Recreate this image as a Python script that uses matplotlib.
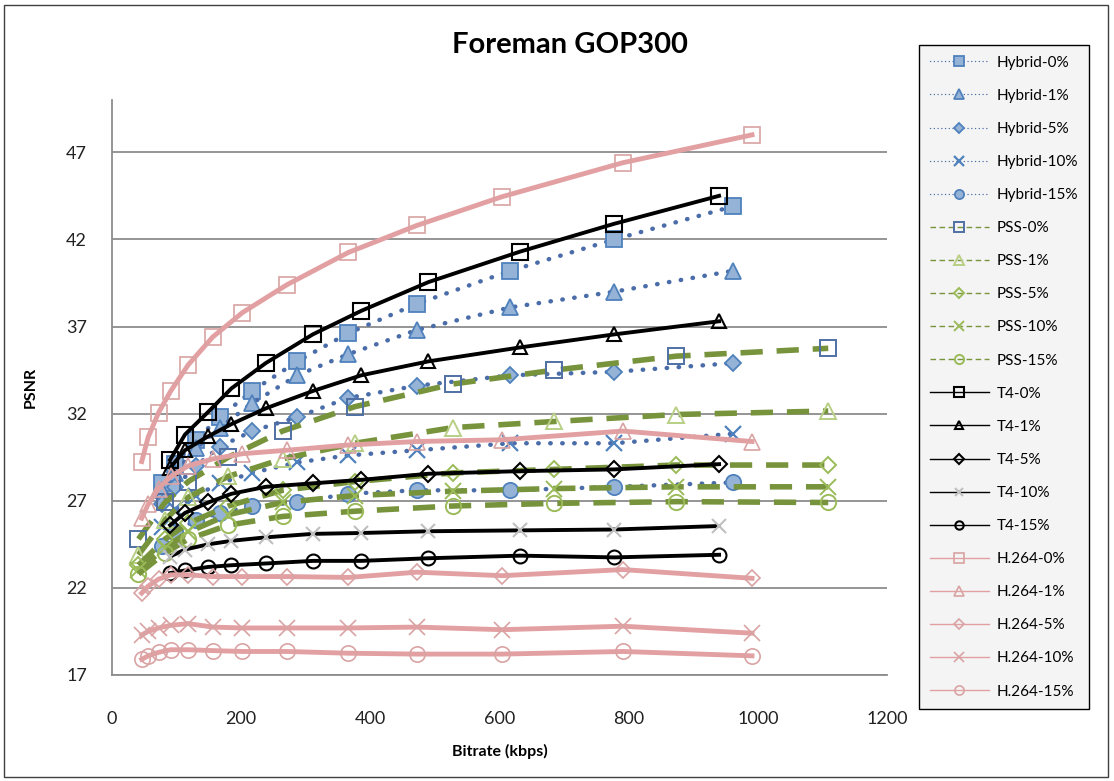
import matplotlib
matplotlib.use("Agg")
import matplotlib.pyplot as plt
from matplotlib.patches import Rectangle

plt.rcParams["font.family"] = ["Lato", "DejaVu Sans"]

# bitrates (kbps) per scheme
x_hybrid = [77, 98, 130, 167, 217, 287, 365, 472, 617, 778, 962]
x_pss = [41, 82, 118, 180, 264, 376, 528, 685, 874, 1109]
x_t4 = [90, 113, 149, 185, 238, 311, 386, 490, 632, 778, 940]
x_h264 = [46, 56, 72, 91, 118, 156, 202, 271, 366, 472, 604, 791, 991]

# PSNR (dB)
hybrid_0 = [28.0, 29.1, 30.5, 31.8, 33.3, 35.0, 36.6, 38.3, 40.2, 42.0, 43.9]
hybrid_1 = [27.6, 28.6, 30.0, 31.2, 32.6, 34.2, 35.4, 36.8, 38.1, 39.0, 40.2]
hybrid_5 = [26.8, 27.8, 29.0, 30.1, 31.0, 31.8, 32.9, 33.6, 34.2, 34.4, 34.9]
hybrid_10 = [25.5, 26.5, 27.3, 28.0, 28.6, 29.2, 29.6, 29.9, 30.3, 30.3, 30.85]
hybrid_15 = [24.4, 25.2, 25.9, 26.3, 26.7, 26.9, 27.4, 27.6, 27.6, 27.8, 28.05]

pss_0 = [24.8, 26.9, 28.1, 29.5, 31.0, 32.4, 33.7, 34.5, 35.3, 35.75]
pss_1 = [23.9, 25.9, 27.2, 28.4, 29.4, 30.3, 31.2, 31.55, 31.95, 32.15]
pss_5 = [23.3, 24.8, 25.7, 26.7, 27.6, 28.1, 28.6, 28.8, 29.05, 29.05]
pss_10 = [23.0, 24.3, 25.2, 26.2, 26.9, 27.3, 27.55, 27.7, 27.8, 27.8]
pss_15 = [22.8, 24.0, 24.8, 25.6, 26.1, 26.4, 26.7, 26.85, 26.95, 26.9]

t4_0 = [29.35, 30.8, 32.1, 33.45, 34.9, 36.55, 37.9, 39.55, 41.3, 42.9, 44.5]
t4_1 = [28.9, 29.9, 30.7, 31.4, 32.3, 33.3, 34.2, 35.0, 35.8, 36.55, 37.3]
t4_5 = [25.6, 26.3, 26.9, 27.4, 27.8, 28.0, 28.2, 28.55, 28.7, 28.8, 29.1]
t4_10 = [23.8, 24.2, 24.5, 24.7, 24.9, 25.1, 25.15, 25.25, 25.3, 25.35, 25.55]
t4_15 = [22.85, 23.0, 23.2, 23.3, 23.4, 23.55, 23.55, 23.7, 23.85, 23.75, 23.9]

h264_0 = [29.25, 30.65, 32.05, 33.3, 34.8, 36.4, 37.8, 39.4, 41.25, 42.8, 44.45, 46.4, 48.0]
h264_1 = [26.0, 26.8, 27.7, 28.4, 29.0, 29.4, 29.7, 29.9, 30.2, 30.4, 30.5, 31.0, 30.4]
h264_5 = [21.7, 22.1, 22.5, 22.75, 22.75, 22.65, 22.65, 22.65, 22.6, 22.9, 22.7, 23.05, 22.55]
h264_10 = [19.3, 19.5, 19.7, 19.85, 19.95, 19.75, 19.7, 19.7, 19.7, 19.75, 19.6, 19.8, 19.4]
h264_15 = [17.9, 18.1, 18.3, 18.45, 18.45, 18.4, 18.35, 18.35, 18.25, 18.2, 18.2, 18.35, 18.1]

rates = ["0%", "1%", "5%", "10%", "15%"]
markers = ["s", "^", "D", "x", "o"]

fig = plt.figure(figsize=(11.14, 7.81), dpi=100)
ax = fig.add_axes([112 / 1114, 1 - 675 / 781, 775 / 1114, 575 / 781])

# Hybrid: dotted blue, filled markers
blue_dots = "#4A6CA8"
for ys, r, m in zip([hybrid_0, hybrid_1, hybrid_5, hybrid_10, hybrid_15], rates, markers):
    ms = 11 if m != "D" else 8
    ax.plot(x_hybrid, ys, color=blue_dots, lw=3.2, linestyle=(0, (0.1, 2.6)),
            dash_capstyle="round", marker=m, ms=ms, mfc="#95B3D7",
            mec="#4F81BD", mew=1.3 if m != "x" else 1.6, label="Hybrid-" + r)

# PSS: dashed green, hollow markers
pss_edges = ["#4F6FA3", "#B8CF85", "#9BBB59", "#9BBB59", "#9BBB59"]
for ys, r, m, ec in zip([pss_0, pss_1, pss_5, pss_10, pss_15], rates, markers, pss_edges):
    ms = 11 if m != "D" else 8
    ax.plot(x_pss, ys, color="#77933C", lw=4, linestyle=(0, (4, 2.5)),
            marker=m, ms=ms, mfc="none", mec=ec, mew=1.4, label="PSS-" + r)

# T4: solid black, hollow black markers
for ys, r, m in zip([t4_0, t4_1, t4_5, t4_10, t4_15], rates, markers):
    ec = "#BFBFBF" if m == "x" else "black"
    ms = 11 if m == "s" else (8 if m == "D" else 10)
    ax.plot(x_t4, ys, color="black", lw=2.8, marker=m, ms=ms, mfc="none",
            mec=ec, mew=1.5, label="T4-" + r)

# H.264: solid pink, hollow pale markers
for ys, r, m in zip([h264_0, h264_1, h264_5, h264_10, h264_15], rates, markers):
    ms = 11 if m != "D" else 8
    ax.plot(x_h264, ys, color="#E3A0A2", lw=3.5, marker=m, ms=ms, mfc="none",
            mec="#D9A3A3", mew=1.2, label="H.264-" + r)

ax.set_xlim(0, 1200)
ax.set_ylim(17, 50)
ax.set_xticks(range(0, 1201, 200))
ax.set_yticks(range(17, 48, 5))
ax.yaxis.grid(True, color="#8C8C8C", lw=1.3)
ax.set_axisbelow(True)
for s in ["top", "right"]:
    ax.spines[s].set_visible(False)
for s in ["left", "bottom"]:
    ax.spines[s].set_color("#8C8C8C")
    ax.spines[s].set_linewidth(1.3)
ax.tick_params(length=0, labelsize=13, colors="#222222")
ax.tick_params(axis="x", pad=26)
ax.tick_params(axis="y", pad=18)
ax.set_xlabel("Bitrate (kbps)", fontsize=11.5, fontweight="bold", labelpad=12)
ax.set_ylabel("PSNR", fontsize=11.5, fontweight="bold", labelpad=20)

fig.text(0.512, 1 - 45 / 781, "Foreman GOP300", ha="center", va="center",
         fontsize=21, fontweight="bold")

leg = fig.legend(loc="upper left", bbox_to_anchor=(919 / 1114, 1 - 45 / 781),
                 fontsize=11, labelspacing=1.25, handlelength=3.9, handletextpad=0.5,
                 markerscale=0.6, borderpad=0.7, borderaxespad=0,
                 fancybox=False, framealpha=1)
leg.get_frame().set_edgecolor("black")
leg.get_frame().set_linewidth(1.0)
leg.get_frame().set_facecolor("#F4F4F4")
for line in leg.get_lines():
    line.set_linewidth(1.0)

fig.patches.append(Rectangle((4 / 1114, 4 / 781), 1104 / 1114, 772 / 781,
                             transform=fig.transFigure, fill=False,
                             edgecolor="#404040", lw=1.0))

fig.savefig("out.png", dpi=100)
